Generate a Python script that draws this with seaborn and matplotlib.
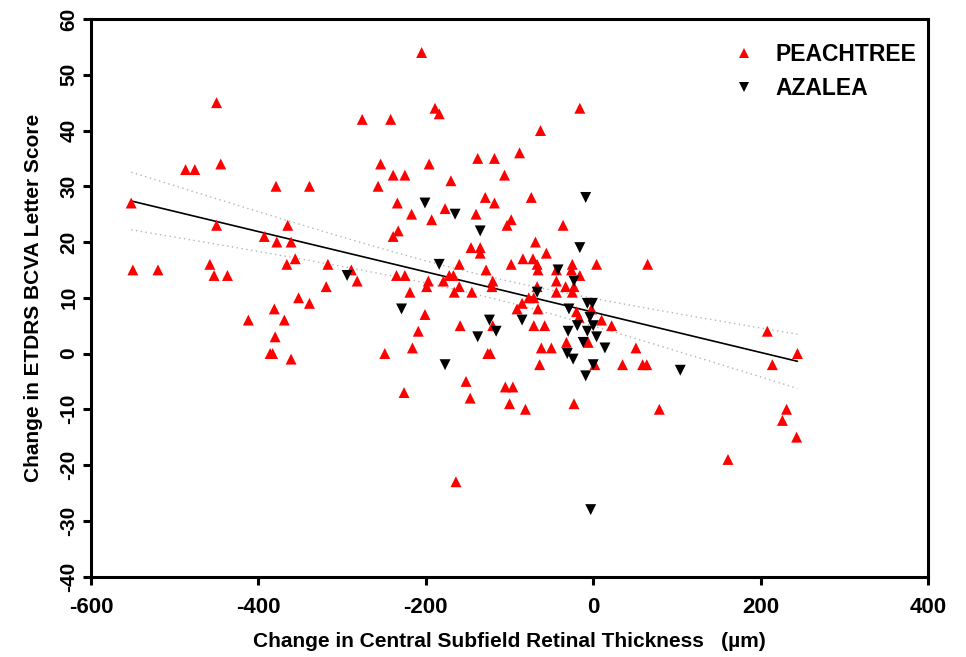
import numpy as np
import pandas as pd
import matplotlib
matplotlib.use("Agg")
import matplotlib.pyplot as plt
import seaborn as sns

# Change in central subfield thickness (µm) and BCVA letter change, per eye
peachtree_cst = [
    -450, -276, -487, -476, -445, -379, -339, -552, -450, -365, -393, -378, -361,
    -356, -366, -317, -458, -550, -520, -453, -437, -289, -282, -319, -352,
    -339, -381, -412, -369, -380, -386, -383, -361,
    -205, -189, -184, -242, -16, -63, -254, -196, -138, -118, -88, -239, -225,
    -106, -170, -257, -129, -118, -74, -234, -217, -177, -193, -140, -98, -103,
    -36, -233, -239, -69, -146, -135, -135, -56, -84, -72, -67, -98, -160, -128,
    -25, 4, -66, -44, -26, -16, -235, -225, -172, -167, -197, -179, -120, -44,
    -199, -160, -121, -33, -23, -25, -219, -166, -145, -67, -44,
    -77, -71, -85, -91, -66, -71, -58, -159, -120, -2, -20, -17, 10, 22, -32,
    -6, 51, -50, -62, 2, 35, -64,
    -201, -209, -249, -216, -126, -123, -226, -152, -147, -105, -96, -100, -81,
    -23, -164,
    65, 208, 244, 214, 59, 64, 79, 231, 226, 243, 161,
]
peachtree_bcva = [
    45, 42, 33, 33, 34, 30, 30, 27, 23, 23, 21, 20, 20,
    17, 16, 16, 16, 15, 15, 14, 14, 15, 13, 12, 10,
    9, 8, 6, 6, 3, 0, 0, -1,
    54, 44, 43, 42, 44, 40, 34, 34, 35, 35, 36, 32, 32,
    32, 31, 30, 28, 27, 28, 27, 25, 26, 24, 25, 24, 23,
    23, 22, 21, 20, 19, 19, 18, 18, 17, 17, 16, 16, 16, 15,
    16, 16, 15, 15, 15, 14, 14, 14, 14, 14, 13, 13, 13, 13,
    12, 12, 12, 12, 12, 11, 11, 11, 11, 12, 11,
    10, 10, 9, 8, 8, 5, 5, 5, 5, 8, 7.5, 6.5, 6, 5, 2,
    2, 1, 1, 1, -2, -2, -2,
    7, 4, 0, 1, 0, 0, -7, -5, -8, -6, -6, -9, -10,
    -9, -23,
    16, 4, 0, -2, -2, -2, -10, -10, -12, -15, -19,
]
azalea_cst = [
    -294, -201, -165, -135, -9, -16, -184, -42, -23, -67, -229, -124, -116,
    -138, -177, -85, -7, -1, -29, -4, -19, 0, -30, -7, 4, -12, 14, -31, -24,
    0, -9, -3, 104,
]
azalea_bcva = [
    14, 27, 25, 22, 28, 19, 16, 15, 13, 11, 8, 6, 4,
    3, -2, 6, 9, 9, 8, 6.5, 5, 5, 4, 4, 3, 2, 1, 0, -1,
    -2, -4, -28, -3,
]

group_names = ["PEACHTREE", "AZALEA"]
x_ticks = [-600, -400, -200, 0, 200, 400]
y_ticks = [-40, -30, -20, -10, 0, 10, 20, 30, 40, 50, 60]

df = pd.DataFrame({
    "cst": peachtree_cst + azalea_cst,
    "bcva": peachtree_bcva + azalea_bcva,
    "study": [group_names[0]] * len(peachtree_cst) + [group_names[1]] * len(azalea_cst),
})

sns.set_style("ticks")
plt.rcParams["font.family"] = ["Liberation Sans", "DejaVu Sans"]
plt.rcParams["font.weight"] = "bold"
plt.rcParams["text.color"] = "black"
plt.rcParams["axes.labelcolor"] = "black"
plt.rcParams["xtick.color"] = "black"
plt.rcParams["ytick.color"] = "black"

fig = plt.figure(figsize=(9.66, 6.57), dpi=100)
ax = fig.add_axes([0.0942, 0.1225, 0.8665, 0.8485])

sns.scatterplot(
    data=df, x="cst", y="bcva", hue="study", style="study",
    hue_order=group_names, style_order=group_names,
    palette={"PEACHTREE": "#ff0000", "AZALEA": "#000000"},
    markers={"PEACHTREE": "^", "AZALEA": "v"},
    s=62, linewidth=0, ax=ax, zorder=3,
)

# Pooled least-squares fit with 95% confidence band of the mean line
x = df["cst"].to_numpy(float)
y = df["bcva"].to_numpy(float)
n = len(x)
slope, intercept = np.polyfit(x, y, 1)
resid = y - (slope * x + intercept)
s_err = np.sqrt(np.sum(resid ** 2) / (n - 2))
sxx = np.sum((x - x.mean()) ** 2)
xf = np.linspace(x.min(), x.max(), 200)
yf = slope * xf + intercept
half = 1.973 * s_err * np.sqrt(1.0 / n + (xf - x.mean()) ** 2 / sxx)
ax.plot(xf, yf, color="black", lw=1.2, zorder=2)
ax.plot(xf, yf + half, color="#b5b5b5", lw=1.0, ls=(0, (1, 2.5)), zorder=1)
ax.plot(xf, yf - half, color="#b5b5b5", lw=1.0, ls=(0, (1, 2.5)), zorder=1)

ax.set_xlim(-600, 400)
ax.set_ylim(-40, 60)
ax.set_xticks(x_ticks)
ax.set_yticks(y_ticks)
ax.set_xticklabels([str(v) for v in x_ticks], fontsize=16, fontweight="bold")
ax.set_yticklabels([str(v) for v in y_ticks], fontsize=15, fontweight="bold",
                   rotation=90, va="center")

for sp in ax.spines.values():
    sp.set_visible(True)
    sp.set_linewidth(2.2)
    sp.set_color("black")
ax.tick_params(axis="both", direction="out", length=6, width=2.2, color="black")
ax.tick_params(axis="x", pad=9)
ax.tick_params(axis="y", pad=3)

ax.set_xlabel("Change in Central Subfield Retinal Thickness   (\u00b5m)",
              fontsize=15, fontweight="bold", labelpad=10)
ax.set_ylabel("Change in ETDRS BCVA Letter Score", fontsize=15, fontweight="bold",
              labelpad=12)

leg = ax.legend(
    loc="upper left", bbox_to_anchor=(0.766, 0.957), frameon=False,
    handlelength=1.0, handletextpad=0.9, labelspacing=0.5, borderpad=0,
    borderaxespad=0, prop={"size": 16.5, "weight": "bold"}, markerscale=0.9,
)
for t in leg.get_texts():
    t.set_color("black")

fig.savefig("out.png", dpi=100, facecolor="white")
